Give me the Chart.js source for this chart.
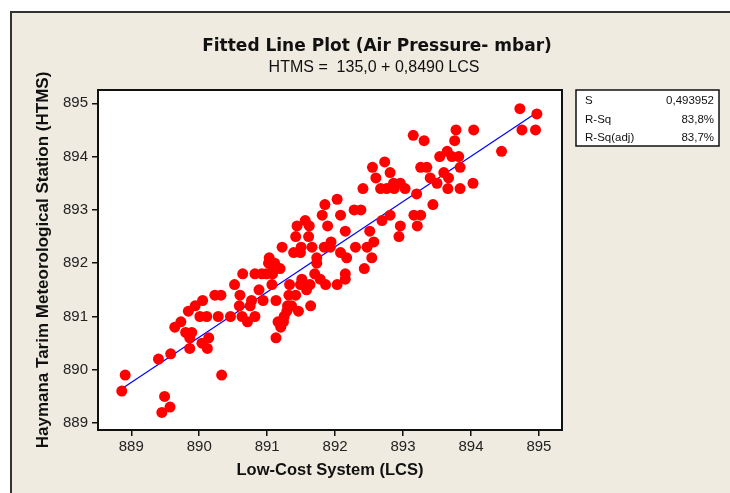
<!DOCTYPE html>
<html>
<head>
<meta charset="utf-8">
<script src="https://cdn.jsdelivr.net/npm/chart.js@4/dist/chart.umd.min.js"></script>
<style>
  html, body { margin: 0; padding: 0; background: #fff; }
  canvas { display: block; }
</style>
</head>
<body>
<canvas id="fitChart" width="730" height="493"></canvas>
<script>
// LCS readings (x) and HTMS readings (y), mbar
const lcs = [
  888.86, 888.91, 889.40, 889.58, 889.49, 889.57, 889.45, 890.33, 889.64, 889.73,
  889.84, 889.94, 890.05, 889.80, 889.89, 889.86, 889.86, 890.04, 890.14, 890.12,
  890.01, 890.11, 890.23, 890.32, 890.28, 890.46, 890.52, 890.60, 890.64, 890.59,
  890.63, 890.71, 890.75, 890.77, 890.82, 890.82, 890.88, 890.92, 890.94, 890.99,
  891.08, 891.02, 891.03, 891.11, 891.09, 891.19, 891.07, 891.13, 891.13, 891.16,
  891.20, 891.24, 891.25, 891.29, 891.30, 891.36, 891.32, 891.42, 891.33, 891.46,
  891.49, 891.51, 891.56, 891.58, 891.63, 891.64, 891.70, 891.73, 891.73, 891.78,
  891.86, 892.03, 891.22, 891.39, 891.49, 891.50, 891.42, 891.61, 891.44, 891.56,
  891.62, 891.66, 891.81, 891.85, 891.89, 891.84, 891.94, 892.03, 892.08, 892.08,
  892.15, 891.93, 892.17, 892.15, 892.15, 892.73, 892.55, 892.81, 892.60, 892.41,
  892.67, 892.76, 892.86, 892.87, 892.96, 893.03, 893.26, 893.35, 893.40, 893.50,
  893.54, 893.60, 893.65, 893.67, 893.66, 893.20, 893.44, 892.28, 892.38, 892.69,
  892.81, 893.16, 893.26, 893.21, 892.96, 892.94, 892.51, 892.57, 892.30, 892.47,
  892.54, 892.43, 894.72, 894.97, 894.75, 894.95, 894.45, 894.04, 893.78, 893.76,
  893.15, 893.31, 893.72, 893.82, 893.84, 893.84, 894.03
];
const htms = [
  889.6, 889.9, 890.2, 890.3, 889.5, 889.3, 889.2, 889.9, 890.8, 890.9,
  891.1, 891.2, 891.3, 890.7, 890.7, 890.6, 890.4, 890.5, 890.6, 890.4,
  891.0, 891.0, 891.4, 891.4, 891.0, 891.0, 891.6, 891.4, 891.8, 891.2,
  891.0, 890.9, 891.2, 891.3, 891.0, 891.8, 891.5, 891.8, 891.3, 891.8,
  891.8, 892.0, 892.1, 892.0, 891.9, 891.9, 891.6, 891.3, 890.6, 890.9,
  890.8, 890.9, 891.0, 891.1, 891.2, 891.2, 891.4, 891.4, 891.6, 891.1,
  891.6, 891.7, 891.6, 891.5, 891.6, 891.2, 891.8, 892.0, 892.1, 891.7,
  891.6, 891.6, 892.3, 892.2, 892.2, 892.3, 892.5, 892.5, 892.7, 892.8,
  892.7, 892.3, 892.9, 893.1, 892.7, 892.3, 892.4, 893.2, 892.9, 892.2,
  892.6, 892.3, 892.1, 891.8, 891.7, 893.9, 893.8, 893.7, 893.6, 893.4,
  893.4, 893.4, 893.5, 893.4, 893.5, 893.4, 893.8, 893.8, 893.6, 893.5,
  894.0, 893.7, 894.1, 893.6, 893.4, 893.3, 893.1, 893.0, 893.0, 892.8,
  892.9, 892.9, 892.9, 892.7, 892.7, 892.5, 892.6, 892.4, 892.3, 892.3,
  892.1, 891.9, 894.9, 894.8, 894.5, 894.5, 894.1, 894.5, 894.5, 894.3,
  894.4, 894.3, 894.0, 894.0, 893.8, 893.4, 893.5
];
const xTicks = [889, 890, 891, 892, 893, 894, 895];
const yTicks = [889, 890, 891, 892, 893, 894, 895];
const intercept = 135.0;
const slope = 0.8490;
const statLabels = ['S', 'R-Sq', 'R-Sq(adj)'];
const statValues = ['0,493952', '83,8%', '83,7%'];

const points = lcs.map((x, i) => ({ x: x, y: htms[i] }));
const xMin = Math.min(...lcs), xMax = Math.max(...lcs);
const fitLine = [xMin, xMax].map(x => ({ x: x, y: intercept + slope * x }));

const frame = {
  id: 'frame',
  beforeDraw(chart) {
    const ctx = chart.ctx, a = chart.chartArea;
    ctx.save();
    ctx.fillStyle = '#ffffff';
    ctx.fillRect(0, 0, chart.width, chart.height);
    ctx.fillStyle = '#efebe1';
    ctx.fillRect(11, 12, chart.width - 11, chart.height - 12);
    ctx.strokeStyle = '#333333';
    ctx.lineWidth = 2;
    ctx.beginPath();
    ctx.moveTo(11, chart.height);
    ctx.lineTo(11, 12);
    ctx.lineTo(chart.width, 12);
    ctx.stroke();
    ctx.fillStyle = '#ffffff';
    ctx.fillRect(a.left, a.top, a.right - a.left, a.bottom - a.top);
    ctx.restore();
  },
  afterDraw(chart) {
    const ctx = chart.ctx, a = chart.chartArea;
    ctx.save();
    ctx.strokeStyle = '#111111';
    ctx.lineWidth = 2;
    ctx.strokeRect(a.left, a.top, a.right - a.left, a.bottom - a.top);

    // title and fitted equation
    ctx.fillStyle = '#111111';
    ctx.textAlign = 'center';
    ctx.textBaseline = 'middle';
    ctx.font = 'bold 17px "DejaVu Sans"';
    ctx.fillText('Fitted Line Plot (Air Pressure- mbar)', 377, 47);
    ctx.font = '16px "Liberation Sans"';
    ctx.fillText('HTMS =  135,0 + 0,8490 LCS', 374, 68);

    // statistics box
    ctx.fillStyle = '#ffffff';
    ctx.fillRect(576, 90, 143, 56);
    ctx.strokeStyle = '#111111';
    ctx.lineWidth = 1.5;
    ctx.strokeRect(576, 90, 143, 56);
    ctx.font = '11.5px "Liberation Sans"';
    ctx.fillStyle = '#111111';
    statLabels.forEach((t, i) => {
      ctx.textAlign = 'left';
      ctx.fillText(t, 585, 101 + i * 18.5);
      ctx.textAlign = 'right';
      ctx.fillText(statValues[i], 714, 101 + i * 18.5);
    });
    ctx.restore();
  }
};

new Chart(document.getElementById('fitChart'), {
  type: 'scatter',
  data: {
    datasets: [{
      label: 'Data',
      data: points,
      backgroundColor: '#ff0000',
      borderWidth: 0,
      pointRadius: 5.5,
      pointHoverRadius: 5.5
    }, {
      type: 'line',
      label: 'Fit',
      data: fitLine,
      borderColor: '#0000ff',
      borderWidth: 1.2,
      pointRadius: 0,
      fill: false
    }]
  },
  options: {
    responsive: false,
    animation: false,
    layout: { padding: { left: 33, top: 90, right: 168, bottom: 13 } },
    plugins: {
      legend: { display: false },
      tooltip: { enabled: false }
    },
    scales: {
      x: {
        type: 'linear',
        min: 888.51,
        max: 895.34,
        afterBuildTicks: s => { s.ticks = xTicks.map(v => ({ value: v })); },
        afterFit: s => { s.height = 50; },
        grid: { drawOnChartArea: false, drawTicks: true, tickLength: 6, color: '#111', lineWidth: 1.5 },
        border: { display: false },
        ticks: { color: '#222', padding: 2, font: { family: 'Liberation Sans', size: 15 } },
        title: {
          display: true,
          text: 'Low-Cost System (LCS)',
          color: '#111',
          padding: 0,
          font: { family: 'Liberation Sans', size: 16.5, weight: 'bold' }
        }
      },
      y: {
        type: 'linear',
        min: 888.87,
        max: 895.25,
        afterBuildTicks: s => { s.ticks = yTicks.map(v => ({ value: v })); },
        afterFit: s => { s.width = 65; },
        grid: { drawOnChartArea: false, drawTicks: true, tickLength: 6, color: '#111', lineWidth: 1.5 },
        border: { display: false },
        ticks: { color: '#222', padding: 4, font: { family: 'Liberation Sans', size: 15 } },
        title: {
          display: true,
          text: 'Haymana Tarim Meteorological Station (HTMS)',
          color: '#111',
          padding: 0,
          font: { family: 'Liberation Sans', size: 17, weight: 'bold' }
        }
      }
    }
  },
  plugins: [frame]
});
</script>
</body>
</html>
